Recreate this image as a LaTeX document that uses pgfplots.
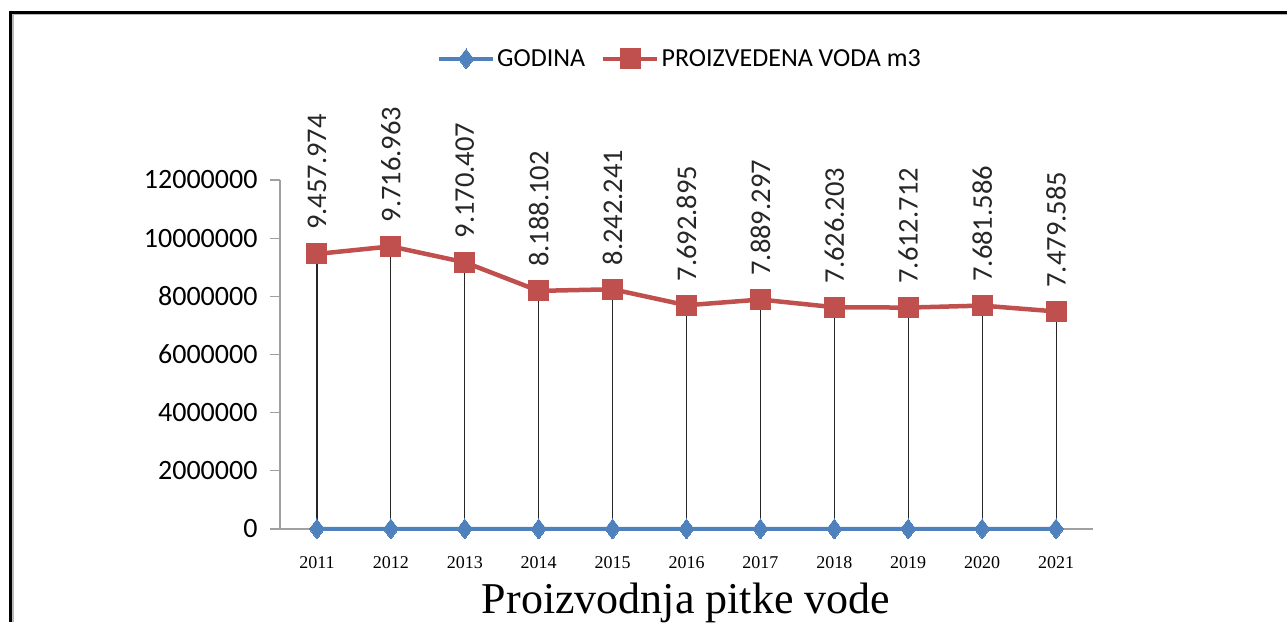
\documentclass[border=0pt]{standalone}
\usepackage{pgfplots}
\pgfplotsset{compat=1.18}
\usepackage{pgfplotstable}
\usepackage{fontspec}
\setmainfont{Liberation Serif}
\newfontfamily\calibri{Carlito}
\definecolor{exred}{RGB}{192,80,77}
\definecolor{exblue}{RGB}{79,129,189}
\definecolor{axgray}{RGB}{160,160,160}
\pgfplotstableread{
x y lab
0 9457974 9.457.974
1 9716963 9.716.963
2 9170407 9.170.407
3 8188102 8.188.102
4 8242241 8.242.241
5 7692895 7.692.895
6 7889297 7.889.297
7 7626203 7.626.203
8 7612712 7.612.712
9 7681586 7.681.586
10 7479585 7.479.585
}\prodtab
\pgfplotstableread{
x y
0 2011
1 2012
2 2013
3 2014
4 2015
5 2016
6 2017
7 2018
8 2019
9 2020
10 2021
}\godtab
\begin{document}
\begin{tikzpicture}
\useasboundingbox (0pt,0pt) rectangle (1287pt,622pt);
\draw[gray!55, line width=1.4pt] (12.8pt,0pt) -- (12.8pt,608pt) -- (1287pt,608pt);
\draw[black, line width=2.7pt] (10.7pt,0pt) -- (10.7pt,609.8pt) -- (1287pt,609.8pt);
\begin{axis}[
  at={(280pt,93pt)}, anchor=south west,
  scale only axis, width=813pt, height=349pt,
  xmin=-0.5, xmax=10.5, ymin=0, ymax=12000000,
  clip=false,
  axis x line*=bottom, axis y line*=left,
  axis line style={axgray, line width=1.3pt, -},
  xtick={0,...,10},
  xticklabels={2011,2012,2013,2014,2015,2016,2017,2018,2019,2020,2021},
  xtick style={draw=none},
  xticklabel style={font=\fontsize{18}{18}\selectfont, yshift=-14pt},
  ytick={0,2000000,4000000,6000000,8000000,10000000,12000000},
  yticklabels={0,2000000,4000000,6000000,8000000,10000000,12000000},
  scaled y ticks=false,
  tick align=outside,
  major tick length=10pt,
  ytick style={axgray, line width=1.3pt},
  yticklabel style={font=\calibri\fontsize{28}{28}\selectfont, xshift=-9pt},
  legend columns=2,
  legend style={at={(0.492,1.347)}, anchor=center, draw=none, fill=none,
    font=\calibri\fontsize{26}{26}\selectfont,
    /tikz/every even column/.append style={column sep=14pt},
    nodes={inner sep=2pt}},
  legend image code/.code={\draw[mark repeat=2,mark phase=2] plot coordinates {(0pt,0pt) (27pt,0pt) (54pt,0pt)};},
]
\addplot[exblue, line width=4pt, mark=diamond*, mark size=10pt, mark options={solid, fill=exblue, draw=exblue, line width=0pt}]
  table[x=x,y=y]{\godtab};
\addlegendentry{GODINA}
\addplot[exred, line width=4.5pt, mark=square*, mark size=10pt, mark options={solid, fill=exred, draw=exred, line width=0pt},
  nodes near coords, point meta=explicit symbolic,
  every node near coord/.style={font=\calibri\fontsize{28.5}{28.5}\selectfont, text=black!85, inner sep=0pt, anchor=west, shift={(0pt,24pt)}, rotate=90}]
  table[x=x,y=y,meta=lab]{\prodtab};
\addlegendentry{PROIZVEDENA VODA m3}
\addplot[ycomb, black!85, line width=1.1pt, no marks, forget plot] table[x=x,y=y]{\prodtab};
\end{axis}
\node[font=\fontsize{44}{44}\selectfont, anchor=base] at (686pt,9pt) {Proizvodnja pitke vode};
\end{tikzpicture}
\end{document}
